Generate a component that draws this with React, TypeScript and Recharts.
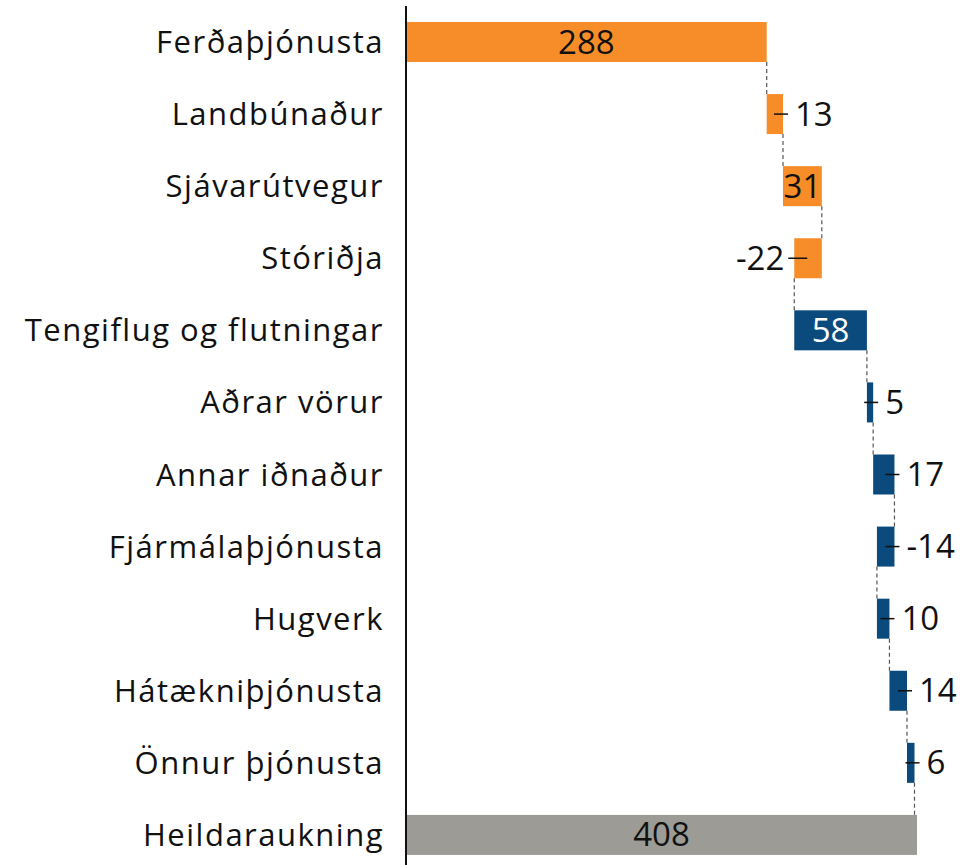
import { Bar, BarChart, LabelList, XAxis, YAxis } from "recharts";

const categories = [
  "Ferðaþjónusta",
  "Landbúnaður",
  "Sjávarútvegur",
  "Stóriðja",
  "Tengiflug og flutningar",
  "Aðrar vörur",
  "Annar iðnaður",
  "Fjármálaþjónusta",
  "Hugverk",
  "Hátækniþjónusta",
  "Önnur þjónusta",
  "Heildaraukning",
];
const changes = [288, 13, 31, -22, 58, 5, 17, -14, 10, 14, 6, 408];
const groups = ["orange", "orange", "orange", "orange", "blue", "blue", "blue", "blue", "blue", "blue", "blue", "total"];
const labelSide = ["inside", "right", "inside", "left", "inside", "right", "right", "right", "right", "right", "right", "inside"];

const colors: Record<string, string> = { orange: "#F78D28", blue: "#0B4A7D", total: "#9C9B96" };
const FONT = "'Open Sans', sans-serif";
const VALUE_SIZE = 33;
const W = 974;
const H = 875;
const MARGIN = { top: 6, right: 57, bottom: 4, left: 0 };
const BAR = 40;
const GAP = (H - MARGIN.top - MARGIN.bottom) / categories.length - BAR;

let running = 0;
const rows = categories.map((name, i) => {
  const change = changes[i];
  if (groups[i] === "total") {
    return { name, change, base: 0, size: change };
  }
  const start = running;
  running += change;
  return { name, change, base: Math.min(start, running), size: Math.abs(change) };
});

const WaterfallBar = (props: any) => {
  const { x, y, width, height, index } = props;
  const row = rows[index];
  const isTotal = groups[index] === "total";
  const endX = row.change >= 0 ? x + width : x;
  return (
    <g>
      <rect x={x} y={y} width={width} height={height} fill={colors[groups[index]]} />
      {!isTotal && (
        <line
          x1={endX}
          x2={endX}
          y1={y + height}
          y2={y + height + GAP}
          stroke="#555"
          strokeWidth={1.2}
          strokeDasharray="4 3"
        />
      )}
    </g>
  );
};

const ValueLabel = (props: any) => {
  const { x, y, width, height, index } = props;
  const side = labelSide[index];
  const cy = y + height / 2 - 1;
  const text = String(changes[index]);
  if (side === "inside") {
    return (
      <text
        x={x + width / 2}
        y={cy}
        textAnchor="middle"
        dominantBaseline="central"
        fontSize={VALUE_SIZE}
        fontFamily={FONT}
        fill={groups[index] === "blue" ? "#fff" : "#111"}
      >
        {text}
      </text>
    );
  }
  if (side === "left") {
    return (
      <g>
        <line x1={x - 6} x2={x + 13} y1={cy + 1} y2={cy + 1} stroke="#111" strokeWidth={1.5} />
        <text x={x - 10} y={cy} textAnchor="end" dominantBaseline="central" fontSize={VALUE_SIZE} fontFamily={FONT} fill="#111">
          {text}
        </text>
      </g>
    );
  }
  const right = x + width;
  return (
    <g>
      <line x1={right - 9} x2={right + 5} y1={cy + 1} y2={cy + 1} stroke="#111" strokeWidth={1.5} />
      <text x={right + 12} y={cy} textAnchor="start" dominantBaseline="central" fontSize={VALUE_SIZE} fontFamily={FONT} fill="#111">
        {text}
      </text>
    </g>
  );
};

export default function App() {
  return (
    <div style={{ position: "absolute", left: 0, top: 0, background: "#fff" }}>
      <BarChart
        width={W}
        height={H}
        data={rows}
        layout="vertical"
        margin={MARGIN}
        barSize={BAR}
        style={{ fontFamily: FONT }}
      >
        <XAxis type="number" domain={[0, 408]} hide />
        <YAxis
          type="category"
          dataKey="name"
          width={406}
          tickLine={false}
          tickSize={0}
          tickMargin={22}
          axisLine={{ stroke: "#111", strokeWidth: 2 }}
          tick={{ fill: "#111", fontSize: 31, fontFamily: FONT, letterSpacing: 1.5 }}
          interval={0}
        />
        <Bar dataKey="base" stackId="w" fill="transparent" isAnimationActive={false} />
        <Bar dataKey="size" stackId="w" shape={WaterfallBar} isAnimationActive={false}>
          <LabelList dataKey="size" content={ValueLabel} />
        </Bar>
      </BarChart>
    </div>
  );
}
